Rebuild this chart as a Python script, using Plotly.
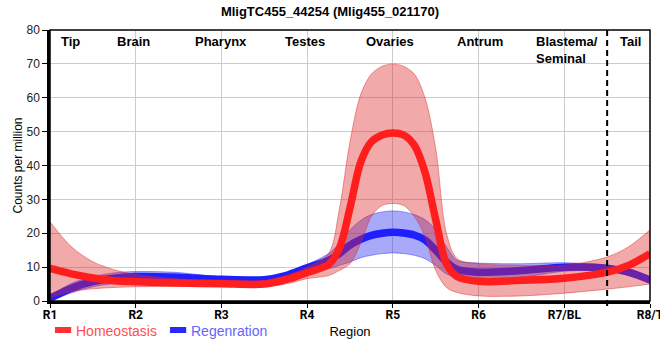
import plotly.graph_objects as go

# ---- data ----
x_pos = [1, 1.25, 1.5, 1.75, 2, 2.5, 3, 3.5, 3.75, 4, 4.25, 4.375, 4.5, 4.625, 4.75, 4.875,
         5, 5.125, 5.25, 5.375, 5.5, 5.625, 5.75, 6, 6.5, 7, 7.5, 7.75, 8]

homeo_mean = [9.6, 8.0, 6.8, 6.0, 5.7, 5.3, 5.1, 5.0, 6.3, 8.4, 10.8, 15.5, 27.5, 41, 47, 49,
              49.6, 49, 46, 38, 24, 11, 7.2, 5.8, 6.1, 6.7, 8.5, 10.5, 14]
homeo_upper = [23.4, 16, 11.6, 9.2, 7.8, 6.5, 6.2, 6.0, 7.5, 10, 14, 27, 47, 61, 67, 69.3,
               70, 69.3, 67, 60, 45, 20, 12.5, 11, 10.5, 10.5, 13, 16, 21]
homeo_lower = [1.0, 2.8, 3.6, 4.0, 4.2, 4.3, 4.3, 4.2, 5.0, 6.6, 7.5, 9, 11, 17, 25, 28.2,
               28.8, 28.2, 25, 19, 9, 4, 2.5, 1.5, 1.5, 2.3, 3.5, 4.2, 5]

regen_mean = [0.8, 3.8, 5.7, 6.7, 7.2, 7.0, 6.4, 6.3, 7.5, 9.8, 12, 14, 16.5, 18.2, 19.4, 20,
              20.3, 20.1, 19.5, 18, 15, 11.5, 9.3, 8.5, 9, 10, 9.7, 8.5, 6.2]
regen_upper = [1.5, 5.2, 7.2, 8.3, 8.7, 8.4, 7.0, 6.9, 8.2, 10.8, 14, 17, 21, 23.8, 25.5, 26.3,
               26.6, 26.3, 25.5, 24, 21, 16, 12, 11.2, 11, 11.3, 10.5, 9.5, 7]
regen_lower = [0, 2.4, 4.2, 5.2, 5.7, 5.7, 5.8, 5.7, 6.8, 8.8, 9.5, 10.5, 11.5, 12.8, 13.5, 14,
               14.2, 14, 13.5, 12.5, 10.5, 8, 7, 6.2, 7, 8.8, 8.8, 7.5, 5.4]

tick_vals = [1, 2, 3, 4, 5, 6, 7, 8]
tick_text = ["R1", "R2", "R3", "R4", "R5", "R6", "R7/BL", "R8/T"]

region_labels = ["Tip", "Brain", "Pharynx", "Testes", "Ovaries", "Antrum", "Blastema/<br>Seminal", "Tail"]
region_label_x = [1.105, 1.97, 3.0, 3.98, 4.97, 6.02, 6.65, 7.77]
region_label_anchor = ["left", "center", "center", "center", "center", "center", "left", "center"]

boundary_x = 7.5
title_text = "MligTC455_44254 (Mlig455_021170)"
series_names = ["Homeostasis", "Regenration"]

FONT = "Liberation Sans, Arial, sans-serif"
SPL = dict(shape="spline", smoothing=0.9)

fig = go.Figure()

def band(upper, lower, fill, edge):
    fig.add_trace(go.Scatter(x=x_pos, y=upper, mode="lines", line=dict(color=edge, width=1, **SPL),
                             showlegend=False, hoverinfo="skip"))
    fig.add_trace(go.Scatter(x=x_pos, y=lower, mode="lines", line=dict(color=edge, width=1, **SPL),
                             fill="tonexty", fillcolor=fill, showlegend=False, hoverinfo="skip"))

# Regeneration
band(regen_upper, regen_lower, "rgba(40,40,240,0.40)", "rgba(40,40,240,0.45)")
fig.add_trace(go.Scatter(x=x_pos, y=regen_mean, mode="lines", name=series_names[1],
                         line=dict(color="rgb(30,30,255)", width=7.5, **SPL), showlegend=False))
# Homeostasis
band(homeo_upper, homeo_lower, "rgba(220,40,40,0.40)", "rgba(220,40,40,0.45)")
fig.add_trace(go.Scatter(x=x_pos, y=homeo_mean, mode="lines", name=series_names[0],
                         line=dict(color="rgb(255,30,30)", width=7.5, **SPL), showlegend=False))

annotations = []
for lab, lx, anc in zip(region_labels, region_label_x, region_label_anchor):
    annotations.append(dict(x=lx, y=1, xref="x", yref="paper", text="<b>%s</b>" % lab, showarrow=False,
                            xanchor=anc, yanchor="top", yshift=-2, align="left",
                            font=dict(family=FONT, size=13, color="black")))

# custom legend
leg_colors = ["rgb(255,50,50)", "rgb(40,40,255)"]
leg_text_colors = ["rgb(255,80,80)", "rgb(100,100,255)"]
leg_x = [0.0083, 0.2]
shapes = []
for nm, c, tc, lx in zip(series_names, leg_colors, leg_text_colors, leg_x):
    shapes.append(dict(type="rect", xref="paper", yref="paper", x0=lx, x1=lx + 0.027,
                       y0=-0.118, y1=-0.096, fillcolor=c, line=dict(width=0)))
    annotations.append(dict(x=lx + 0.032, y=-0.11, xref="paper", yref="paper", text=nm, showarrow=False,
                            xanchor="left", yanchor="middle", font=dict(family=FONT, size=14, color=tc)))

# boundary dashed line
shapes.append(dict(type="line", xref="x", yref="paper", x0=boundary_x, x1=boundary_x, y0=-0.018, y1=1,
                   line=dict(color="black", width=2, dash="6px,4px"), layer="above"))
# thin box border
shapes.append(dict(type="rect", xref="paper", yref="paper", x0=0, x1=1, y0=0, y1=1,
                   line=dict(color="black", width=1.5), layer="above"))

fig.update_layout(
    width=660, height=360,
    margin=dict(l=50, r=10, t=30, b=59, autoexpand=False),
    paper_bgcolor="white", plot_bgcolor="white",
    title=dict(text="<b>%s</b>" % title_text, x=0.5, xanchor="center", y=1 - 11 / 360, yanchor="middle",
               font=dict(family=FONT, size=13, color="black")),
    font=dict(family=FONT, size=12, color="black"),
    shapes=shapes, annotations=annotations,
    xaxis=dict(range=[1, 8], tickvals=tick_vals, ticktext=["<b>%s</b>" % t for t in tick_text],
               automargin=False, ticklabeloverflow="allow", ticklabelstandoff=-3,
               showgrid=True, gridcolor="#cccccc", gridwidth=1, zeroline=False,
               showline=True, linecolor="black", linewidth=2.5,
               ticks="outside", ticklen=4, tickcolor="black", tickwidth=1,
               tickfont=dict(family="Roboto, " + FONT, size=12, color="black"),
               title=dict(text="Region", standoff=6, font=dict(family=FONT, size=13, color="black"))),
    yaxis=dict(range=[0, 80], tickvals=[0, 10, 20, 30, 40, 50, 60, 70, 80],
               automargin=False,
               showgrid=True, gridcolor="#cccccc", gridwidth=1, zeroline=False,
               showline=True, linecolor="black", linewidth=2.5,
               ticks="outside", ticklen=5, tickcolor="black", tickwidth=1,
               tickfont=dict(family=FONT, size=12, color="#222222"),
               title=dict(text="Counts per million", standoff=2, font=dict(family=FONT, size=12, color="black"))),
)

fig.write_html("out.html", config={"displayModeBar": False},
               post_script="document.body.style.margin='0';")
